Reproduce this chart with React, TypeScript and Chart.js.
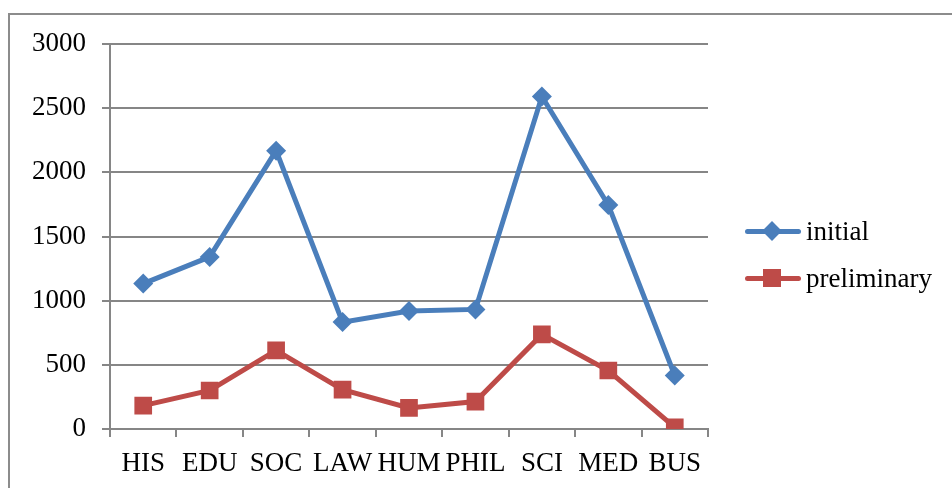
import React, { useEffect, useRef } from "react";
import { Chart, registerables } from "chart.js";

Chart.register(...registerables);

const categories = ["HIS", "EDU", "SOC", "LAW", "HUM", "PHIL", "SCI", "MED", "BUS"];
const initialValues = [1133, 1341, 2169, 833, 919, 932, 2591, 1745, 417];
const preliminaryValues = [182, 300, 612, 307, 164, 214, 737, 456, 13];
const seriesNames = ["initial", "preliminary"];
const yTicks = [0, 500, 1000, 1500, 2000, 2500, 3000];

const BLUE = "#4A7EBB";
const RED = "#BE4B48";
const GRID = "#868686";
const FONT = "'Liberation Serif', 'Times New Roman', serif";

function LegendItem({ color, square, label, top }: { color: string; square: boolean; label: string; top: number }) {
  return (
    <div style={{ position: "absolute", left: 745, top: top - 20, height: 40, width: 207 }}>
      <div
        style={{
          position: "absolute",
          left: 0,
          top: 17.5,
          width: 56,
          height: 5,
          borderRadius: 3,
          background: color,
        }}
      />
      {square ? (
        <div style={{ position: "absolute", left: 18, top: 11, width: 18, height: 18, background: color }} />
      ) : (
        <div
          style={{
            position: "absolute",
            left: 20,
            top: 13,
            width: 14,
            height: 14,
            background: color,
            transform: "rotate(45deg)",
          }}
        />
      )}
      <div
        style={{
          position: "absolute",
          left: 61,
          top: 0,
          height: 40,
          lineHeight: "40px",
          fontFamily: FONT,
          fontSize: 27,
          color: "#000",
          whiteSpace: "nowrap",
        }}
      >
        {label}
      </div>
    </div>
  );
}

export default function App() {
  const ref = useRef<HTMLCanvasElement | null>(null);

  useEffect(() => {
    if (!ref.current) return;
    const chart = new Chart(ref.current, {
      type: "line",
      data: {
        labels: categories,
        datasets: [
          {
            label: seriesNames[0],
            data: initialValues,
            borderColor: BLUE,
            backgroundColor: BLUE,
            borderWidth: 5,
            pointStyle: "rectRot",
            pointRadius: 10,
            pointBorderWidth: 0,
            pointBackgroundColor: BLUE,
            tension: 0,
          },
          {
            label: seriesNames[1],
            data: preliminaryValues,
            borderColor: RED,
            backgroundColor: RED,
            borderWidth: 5,
            pointStyle: "rect",
            pointRadius: 12.5,
            pointBorderWidth: 0,
            pointBackgroundColor: RED,
            tension: 0,
          },
        ],
      },
      options: {
        animation: false,
        responsive: false,
        maintainAspectRatio: false,
        layout: { padding: { left: 0, top: 44, right: 244, bottom: 0 } },
        plugins: {
          legend: { display: false },
          tooltip: { enabled: false },
        },
        scales: {
          x: {
            type: "category",
            offset: true,
            grid: {
              offset: true,
              drawOnChartArea: false,
              drawTicks: true,
              tickLength: 8,
              color: GRID,
              lineWidth: 2,
            },
            border: { display: true, color: GRID, width: 2 },
            ticks: {
              color: "#000",
              font: { family: FONT, size: 27 },
              padding: 11,
              maxRotation: 0,
              autoSkip: false,
            },
            afterFit: (scale: any) => {
              scale.height = 59;
            },
          },
          y: {
            min: 0,
            max: 3000,
            afterBuildTicks: (scale: any) => {
              scale.ticks = yTicks.map((v) => ({ value: v }));
            },
            grid: {
              drawOnChartArea: true,
              drawTicks: true,
              tickLength: 8,
              color: GRID,
              lineWidth: 2,
            },
            border: { display: true, color: GRID, width: 2 },
            ticks: {
              color: "#000",
              font: { family: FONT, size: 27 },
              padding: 16,
              callback: (value: any) => String(value),
            },
            afterFit: (scale: any) => {
              scale.width = 110;
            },
          },
        },
      },
    });
    return () => chart.destroy();
  }, []);

  return (
    <div
      style={{
        position: "fixed",
        left: 0,
        top: 0,
        width: 952,
        height: 488,
        overflow: "hidden",
        background: "#fff",
      }}
    >
      <div
        style={{
          position: "absolute",
          left: 8,
          top: 13,
          width: 1100,
          height: 600,
          border: "2px solid #8C8C8C",
          boxSizing: "border-box",
        }}
      />
      <canvas ref={ref} width={952} height={488} style={{ position: "absolute", left: 0, top: 0, width: 952, height: 488 }} />
      <LegendItem color={BLUE} square={false} label={seriesNames[0]} top={231} />
      <LegendItem color={RED} square={true} label={seriesNames[1]} top={278} />
    </div>
  );
}
